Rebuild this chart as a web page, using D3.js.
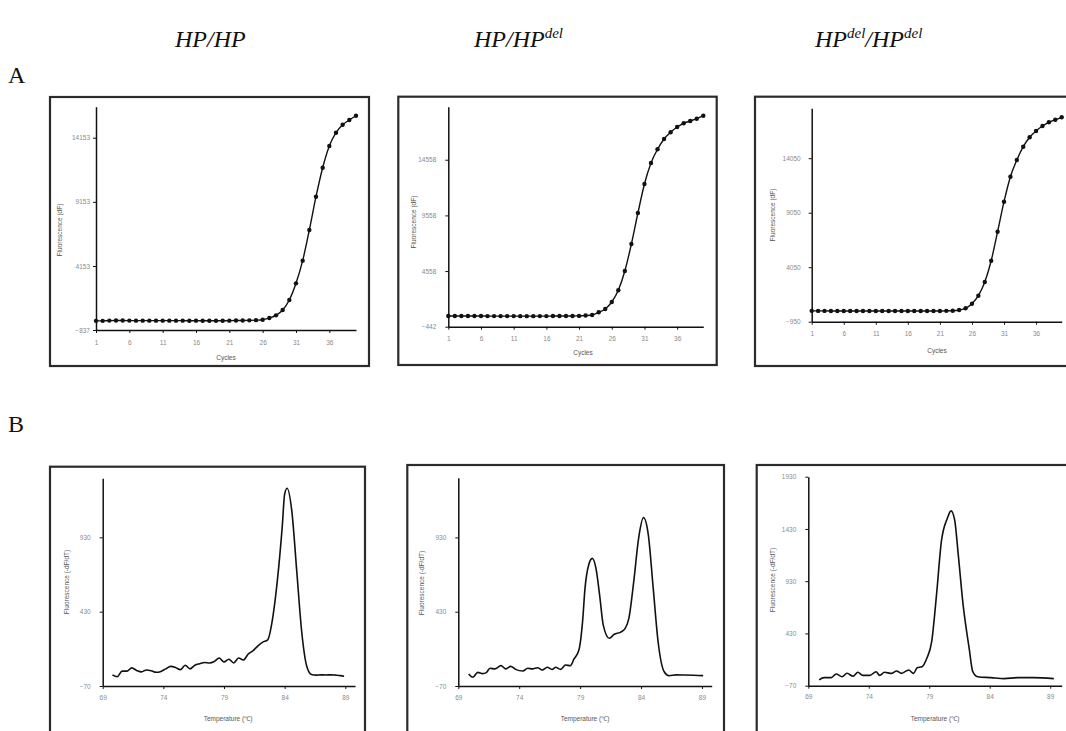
<!DOCTYPE html>
<html>
<head>
<meta charset="utf-8">
<script src="https://cdn.jsdelivr.net/npm/d3@7"></script>
<style>
  body { margin: 0; background: #fff; }
  .axis path, .axis line { stroke: #111; }
  .axis path { stroke-width: 1.5; }
  .axis text { fill: #8a8a8a; font-family: Arial, "Liberation Sans", sans-serif; font-size: 6.5px; }
  .lab { fill: #555; font-family: Arial, "Liberation Sans", sans-serif; font-size: 6.5px; }
  .title { font-family: "Liberation Serif", "Times New Roman", serif; font-style: italic; font-size: 24px; fill: #111; }
  .letter { font-family: "Liberation Serif", "Times New Roman", serif; font-size: 24px; fill: #111; }
</style>
</head>
<body>
<div id="container"></div>
<script>
"use strict";

// qPCR amplification (row A)
var cycles = [1, 2, 3, 4, 5, 6, 7, 8, 9, 10, 11, 12, 13, 14, 15, 16, 17, 18, 19, 20,
    21, 22, 23, 24, 25, 26, 27, 28, 29, 30, 31, 32, 33, 34, 35, 36, 37, 38, 39, 40];
var ampHPHP = [-125, -125, -105, -100, -100, -105, -110, -110, -110, -110, -110, -110, -110, -110, -115, -110, -115, -120, -120, -115,
    -110, -100, -95, -85, -70, -40, 98, 306, 722, 1501, 2800, 4567, 6957, 9553, 11813, 13504, 14541, 15164, 15531, 15866];
var ampHPdel = [519, 519, 519, 519, 519, 519, 510, 510, 510, 510, 510, 505, 505, 505, 510, 510, 515, 515, 520, 525,
    530, 560, 609, 851, 1148, 1777, 2828, 4562, 6988, 9773, 12379, 14266, 15497, 16422, 17024, 17500, 17833, 18039, 18246, 18516];
var ampDelDel = [45, 40, 40, 38, 35, 35, 35, 32, 32, 30, 30, 28, 28, 25, 25, 25, 28, 28, 30, 32,
    35, 45, 59, 123, 279, 701, 1435, 2692, 4646, 7307, 10059, 12353, 13885, 15105, 15967, 16545, 17004, 17344, 17582, 17802];

var cycleTicks = [1, 6, 11, 16, 21, 26, 31, 36];
var ampTicksHPHP = [-837, 4153, 9153, 14153];
var ampTicksHPdel = [-442, 4558, 9558, 14558];
var ampTicksDelDel = [-950, 4050, 9050, 14050];

// melt curves (row B)
var meltTempHPHP = [69.8, 70.2, 70.6, 71.0, 71.4, 71.8, 72.2, 72.6, 73.0, 73.4, 73.8, 74.2, 74.6, 75.0, 75.4, 75.8, 76.2, 76.6, 77.0, 77.4,
    77.8, 78.2, 78.6, 79.0, 79.4, 79.8, 80.2, 80.6, 81.0, 81.4, 81.8, 82.2, 82.6, 83.0, 83.4, 83.8, 84.0, 84.2, 84.6, 85.0,
    85.4, 85.8, 86.2, 86.6, 87.0, 87.4, 87.8, 88.2, 88.6, 88.9];
var meltHPHP = [5, -8, 30, 30, 52, 35, 25, 38, 33, 22, 28, 45, 62, 55, 40, 70, 45, 70, 80, 88,
    85, 95, 118, 92, 110, 85, 118, 105, 145, 168, 200, 225, 240, 380, 640, 1000, 1220, 1260, 1100, 700,
    300, 70, 8, 3, 5, 4, 5, 3, 0, -5];

var meltTempHPdel = [69.85, 70.2, 70.6, 71.0, 71.3, 71.6, 72.0, 72.5, 72.9, 73.3, 73.7, 74.3, 74.7, 75.1, 75.5, 75.9, 76.3, 76.7, 77.0, 77.4,
    77.8, 78.2, 78.5, 78.9, 79.2, 79.4, 79.7, 80.0, 80.3, 80.6, 80.9, 81.4, 81.8, 82.3, 82.7, 83.0, 83.4, 83.8, 84.2, 84.6,
    85.0, 85.4, 85.9, 86.3, 86.9, 87.5, 88.3, 89.1];
var meltHPdel = [11, -11, 22, 13, 20, 49, 45, 67, 45, 62, 42, 31, 49, 45, 53, 38, 56, 42, 56, 42,
    71, 67, 112, 172, 363, 587, 744, 789, 722, 542, 340, 251, 278, 291, 318, 385, 632, 924, 1063, 946,
    587, 228, 26, -1, 5, 4, 2, 0];

var meltTempDelDel = [69.9, 70.3, 70.9, 71.3, 71.8, 72.2, 72.7, 73.1, 73.5, 74.1, 74.6, 74.9, 75.3, 75.9, 76.3, 76.7, 77.3, 77.7, 78.0, 78.4,
    78.8, 79.2, 79.6, 80.0, 80.5, 80.8, 81.1, 81.4, 81.8, 82.3, 82.6, 83.0, 84.1, 85.2, 86.3, 87.6, 89.3];
var meltDelDel = [-15, 7, 7, 42, 16, 49, 21, 58, 29, 29, 64, 29, 58, 48, 71, 48, 80, 48, 102, 112,
    192, 351, 799, 1309, 1533, 1603, 1517, 1182, 703, 288, 64, 16, 7, -2, 7, 7, -2];

var tempTicks = [69, 74, 79, 84, 89];
var meltTicksHPHP = [-70, 430, 930];
var meltTicksHPdel = [-70, 430, 930];
var meltTicksDelDel = [-70, 430, 930, 1430, 1930];

var width = 1066;
var height = 731;

var svg = d3.select("#container").append("svg")
    .attr("width", width)
    .attr("height", height);

// panel layout (pixel positions only)
var panels = [
    { box: [50, 97, 319, 269], left: 96, right: 356, bottom: 330, top: 106.7, xDomain: [1, 40], yDomain: [-837, 16568],
      xs: cycles, ys: ampHPHP, xTicks: cycleTicks, yTicks: ampTicksHPHP, dots: true, yPad: 3, xPad: 7,
      yLabel: "Fluorescence (dF)", yLabelPos: [60, 230], xLabel: "Cycles", xLabelPos: [226, 358] },
    { box: [398.3, 96.7, 318.4, 268.3], left: 448.3, right: 703.3, bottom: 326.7, top: 106.7, xDomain: [1, 40], yDomain: [-442, 19324],
      xs: cycles, ys: ampHPdel, xTicks: cycleTicks, yTicks: ampTicksHPdel, dots: true, yPad: 9, xPad: 7,
      yLabel: "Fluorescence (dF)", yLabelPos: [414, 222], xLabel: "Cycles", xLabelPos: [583, 353] },
    { box: [755, 96.7, 340, 269.3], left: 811.7, right: 1061.7, bottom: 321.7, top: 108.3, xDomain: [1, 40], yDomain: [-950, 18628],
      xs: cycles, ys: ampDelDel, xTicks: cycleTicks, yTicks: ampTicksDelDel, dots: true, yPad: 8, xPad: 7,
      yLabel: "Fluorescence (dF)", yLabelPos: [773, 215], xLabel: "Cycles", xLabelPos: [937, 351] },
    { box: [50, 466.7, 315, 300], left: 102.7, right: 355, bottom: 686, top: 478.3, xDomain: [69, 89.8], yDomain: [-70, 1327],
      xs: meltTempHPHP, ys: meltHPHP, xTicks: tempTicks, yTicks: meltTicksHPHP, dots: false, yPad: 9, xPad: 6,
      yLabel: "Fluorescence (-dF/dT)", yLabelPos: [67, 582], xLabel: "Temperature (\u2103)", xLabelPos: [228, 719] },
    { box: [407.3, 465, 316.7, 300], left: 458.3, right: 711.7, bottom: 686, top: 477.7, xDomain: [69, 89.8], yDomain: [-70, 1332],
      xs: meltTempHPdel, ys: meltHPdel, xTicks: tempTicks, yTicks: meltTicksHPdel, dots: false, yPad: 9, xPad: 6,
      yLabel: "Fluorescence (-dF/dT)", yLabelPos: [422, 583], xLabel: "Temperature (\u2103)", xLabelPos: [585, 719] },
    { box: [756.7, 465, 340, 300], left: 808.3, right: 1061.7, bottom: 685.7, top: 476.7, xDomain: [69, 89.95], yDomain: [-70, 1930],
      xs: meltTempDelDel, ys: meltDelDel, xTicks: tempTicks, yTicks: meltTicksDelDel, dots: false, yPad: 9, xPad: 6,
      yLabel: "Fluorescence (-dF/dT)", yLabelPos: [773, 580], xLabel: "Temperature (\u2103)", xLabelPos: [935, 719] }
];

function drawPanel(p) {
    var g = svg.append("g");

    g.append("rect")
        .attr("x", p.box[0]).attr("y", p.box[1])
        .attr("width", p.box[2]).attr("height", p.box[3])
        .attr("fill", "none")
        .attr("stroke", "#2b2b2b")
        .attr("stroke-width", 2.2);

    var x = d3.scaleLinear().domain(p.xDomain).range([p.left, p.right]);
    var y = d3.scaleLinear().domain(p.yDomain).range([p.bottom, p.top]);

    g.append("g").attr("class", "axis")
        .attr("transform", "translate(0," + p.bottom + ")")
        .call(d3.axisBottom(x).tickValues(p.xTicks).tickSize(3).tickSizeOuter(0).tickPadding(p.xPad).tickFormat(d3.format("d")));

    g.append("g").attr("class", "axis")
        .attr("transform", "translate(" + p.left + ",0)")
        .call(d3.axisLeft(y).tickValues(p.yTicks).tickSize(3).tickSizeOuter(0).tickPadding(p.yPad).tickFormat(d3.format("d")));

    var pts = p.xs.map(function (d, i) {
        return { x: d, y: p.ys[i] };
    });

    var line = d3.line()
        .x(function (d) { return x(d.x); })
        .y(function (d) { return y(d.y); })
        .curve(d3.curveMonotoneX);

    g.append("path")
        .datum(pts)
        .attr("d", line)
        .attr("fill", "none")
        .attr("stroke", "#111")
        .attr("stroke-width", p.dots ? 1.4 : 1.6)
        .attr("stroke-linejoin", "round");

    if (p.dots) {
        g.selectAll("circle.pt").data(pts).enter().append("circle")
            .attr("class", "pt")
            .attr("cx", function (d) { return x(d.x); })
            .attr("cy", function (d) { return y(d.y); })
            .attr("r", 2.2)
            .style("fill", "#111");
    }

    g.append("text").attr("class", "lab")
        .attr("transform", "translate(" + p.yLabelPos[0] + "," + p.yLabelPos[1] + ") rotate(-90)")
        .attr("text-anchor", "middle")
        .attr("dy", "0.35em")
        .text(p.yLabel);

    g.append("text").attr("class", "lab")
        .attr("x", p.xLabelPos[0]).attr("y", p.xLabelPos[1])
        .attr("text-anchor", "middle")
        .attr("dy", "0.35em")
        .text(p.xLabel);
}

panels.forEach(drawPanel);

// genotype headings
var t1 = svg.append("text").attr("class", "title").attr("x", 175).attr("y", 47);
t1.append("tspan").text("HP/HP");

var t2 = svg.append("text").attr("class", "title").attr("x", 474).attr("y", 47);
t2.append("tspan").text("HP/HP");
t2.append("tspan").attr("dy", -9).style("font-size", "15px").text("del");

var t3 = svg.append("text").attr("class", "title").attr("x", 815).attr("y", 47);
t3.append("tspan").text("HP");
t3.append("tspan").attr("dy", -9).style("font-size", "15px").text("del");
t3.append("tspan").attr("dy", 9).text("/HP");
t3.append("tspan").attr("dy", -9).style("font-size", "15px").text("del");

svg.append("text").attr("class", "letter").attr("x", 8).attr("y", 83).text("A");
svg.append("text").attr("class", "letter").attr("x", 8).attr("y", 432).text("B");
</script>
</body>
</html>
